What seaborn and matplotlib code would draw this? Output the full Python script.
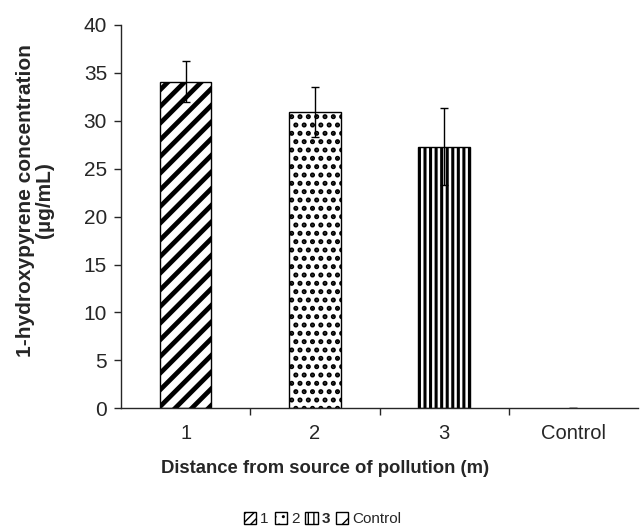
import matplotlib
matplotlib.use('Agg')
import matplotlib.pyplot as plt
import matplotlib.patches as mpatches
import seaborn as sns
import pandas as pd

# -----------------------------
# Data
# -----------------------------
sites = ['1', '2', '3', 'Control']
concentration = [34.1, 30.9, 27.3, 0.0]
sd = [2.1, 2.6, 4.0, 0.0]
hatches = ['//', '..', '|||', '']
hatch_lw = [3.4, 2.4, 2.2, 1.0]
legend_hatches = ['////', '..', '|||', '/']

df = pd.DataFrame({'site': sites, 'conc': concentration, 'sd': sd})

# -----------------------------
# Plot
# -----------------------------
sns.set_style('ticks')
plt.rcParams['font.family'] = ['Liberation Sans', 'DejaVu Sans']
plt.rcParams['hatch.color'] = 'black'

fig = plt.figure(figsize=(6.4, 5.31), dpi=100)
ax = fig.add_axes([0.189, 0.231, 0.808, 0.722])

sns.barplot(x='site', y='conc', data=df, color='white', edgecolor='black',
            linewidth=1.0, width=0.4, errorbar=None, ax=ax, saturation=1)

for bar, h, lw in zip(ax.patches, hatches, hatch_lw):
    bar.set_hatch(h)
    if hasattr(bar, 'set_hatch_linewidth'):
        bar.set_hatch_linewidth(lw)
    if bar.get_height() == 0:
        bar.set_linewidth(0)

ax.errorbar(range(len(sites)), df['conc'], yerr=df['sd'], fmt='none',
            ecolor='black', elinewidth=1.0, capsize=3, capthick=1.0)

ax.set_ylim(0, 40)
ax.set_xlim(-0.5, 3.5)
ax.set_yticks(range(0, 41, 5))
ax.set_xticks([0.5, 1.5, 2.5], minor=True)
ax.tick_params(axis='x', which='major', length=0, pad=11, labelsize=14.5)
ax.tick_params(axis='x', which='minor', length=5, width=1, direction='out')
ax.tick_params(axis='y', length=5, width=1, labelsize=15, pad=5)
sns.despine(ax=ax, top=True, right=True)
ax.spines['left'].set_linewidth(1.0)
ax.spines['bottom'].set_linewidth(1.0)

ax.set_xlabel('Distance from source of pollution (m)', fontsize=13.3,
              fontweight='bold')
ax.xaxis.set_label_coords(0.395, -0.135)
ax.set_ylabel('1-hydroxypyrene concentration\n(µg/mL)', fontsize=15,
              fontweight='bold', linespacing=1.0)
ax.yaxis.set_label_coords(-0.13, 0.543)

handles = []
for h, lw in zip(legend_hatches, hatch_lw):
    p = mpatches.Patch(facecolor='white', edgecolor='black', hatch=h, linewidth=1.0)
    if hasattr(p, 'set_hatch_linewidth'):
        p.set_hatch_linewidth(2.2 if h != '/' else 1.0)
    handles.append(p)
leg = fig.legend(handles, sites, loc='center', bbox_to_anchor=(0.504, 0.022),
                 ncol=4, frameon=False, handlelength=0.8, handleheight=0.8,
                 handletextpad=0.25, columnspacing=0.4, fontsize=11)
leg.get_texts()[2].set_fontweight('bold')

plt.savefig('out.png', dpi=100)
